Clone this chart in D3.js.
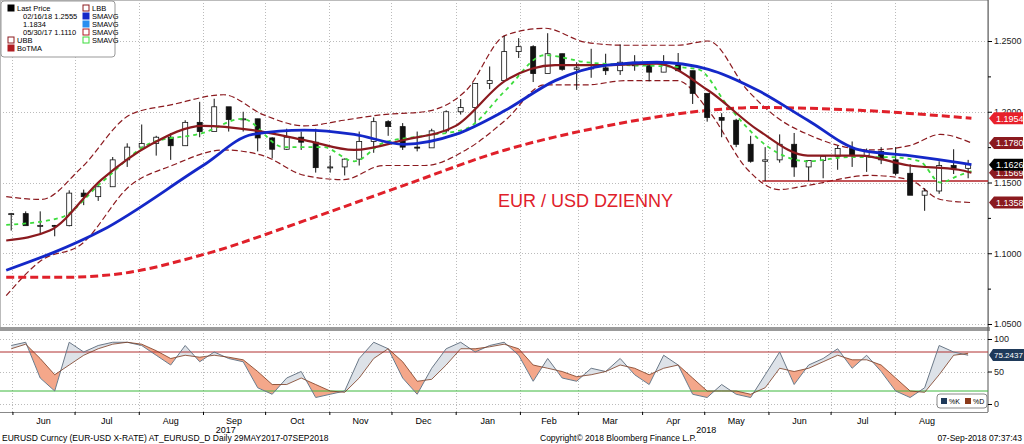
<!DOCTYPE html>
<html><head><meta charset="utf-8">
<script src="https://cdn.jsdelivr.net/npm/d3@7"></script>
<style>body{margin:0;background:#fff}svg{display:block;font-family:"Liberation Sans",sans-serif}</style>
</head><body><svg id="c" width="1024" height="444"></svg>
<script>
const weeks=["2017-05-29","2017-06-05","2017-06-12","2017-06-19","2017-06-26","2017-07-03","2017-07-10","2017-07-17","2017-07-24","2017-07-31","2017-08-07","2017-08-14","2017-08-21","2017-08-28","2017-09-04","2017-09-11","2017-09-18","2017-09-25","2017-10-02","2017-10-09","2017-10-16","2017-10-23","2017-10-30","2017-11-06","2017-11-13","2017-11-20","2017-11-27","2017-12-04","2017-12-11","2017-12-18","2017-12-25","2018-01-01","2018-01-08","2018-01-15","2018-01-22","2018-01-29","2018-02-05","2018-02-12","2018-02-19","2018-02-26","2018-03-05","2018-03-12","2018-03-19","2018-03-26","2018-04-02","2018-04-09","2018-04-16","2018-04-23","2018-04-30","2018-05-07","2018-05-14","2018-05-21","2018-05-28","2018-06-04","2018-06-11","2018-06-18","2018-06-25","2018-07-02","2018-07-09","2018-07-16","2018-07-23","2018-07-30","2018-08-06","2018-08-13","2018-08-20","2018-08-27","2018-09-03"];
const high=[1.1285,1.1296,1.1296,1.1200,1.1445,1.1450,1.1490,1.1680,1.1777,1.1910,1.1830,1.1850,1.1940,1.2070,1.2092,1.2030,1.2000,1.1950,1.1820,1.1880,1.1860,1.1880,1.1690,1.1670,1.1860,1.1960,1.1940,1.1920,1.1860,1.1880,1.2010,1.2090,1.2200,1.2320,1.2536,1.2520,1.2470,1.2555,1.2410,1.2350,1.2445,1.2410,1.2475,1.2400,1.2340,1.2400,1.2415,1.2290,1.2125,1.1990,1.1950,1.1830,1.1750,1.1840,1.1850,1.1650,1.1690,1.1760,1.1790,1.1740,1.1750,1.1750,1.1630,1.1460,1.1650,1.1735,1.1660];
const low=[1.1160,1.1200,1.1130,1.1120,1.1190,1.1340,1.1370,1.1470,1.1610,1.1730,1.1690,1.1660,1.1760,1.1820,1.1880,1.1860,1.1860,1.1720,1.1670,1.1730,1.1730,1.1570,1.1570,1.1550,1.1620,1.1710,1.1830,1.1730,1.1720,1.1790,1.1850,1.1980,1.1920,1.2160,1.2220,1.2380,1.2210,1.2350,1.2290,1.2155,1.2240,1.2260,1.2260,1.2290,1.2215,1.2280,1.2330,1.2055,1.1930,1.1820,1.1750,1.1640,1.1510,1.1640,1.1540,1.1510,1.1530,1.1590,1.1610,1.1575,1.1630,1.1550,1.1430,1.1300,1.1420,1.1560,1.1530];
const close=[1.1280,1.1195,1.1197,1.1195,1.1425,1.1400,1.1470,1.1660,1.1750,1.1775,1.1820,1.1760,1.1925,1.1860,1.2035,1.1945,1.1950,1.1815,1.1735,1.1820,1.1785,1.1605,1.1610,1.1665,1.1790,1.1930,1.1895,1.1750,1.1745,1.1865,1.2000,1.2030,1.2200,1.2220,1.2425,1.2460,1.2270,1.2410,1.2300,1.2310,1.2310,1.2290,1.2350,1.2325,1.2280,1.2330,1.2290,1.2130,1.1960,1.1940,1.1770,1.1650,1.1660,1.1770,1.1610,1.1655,1.1685,1.1740,1.1690,1.1720,1.1660,1.1565,1.1410,1.1440,1.1620,1.1600,1.1626];
const ma200Dates=["2017-05-29","2017-06-25","2017-07-20","2017-09-01","2017-10-20","2017-12-07","2018-01-25","2018-03-15","2018-05-03","2018-05-27","2018-07-15","2018-09-07"];
const ma200=[1.083,1.083,1.085,1.099,1.123,1.148,1.173,1.190,1.201,1.203,1.201,1.1954];
const ma100Dates=["2017-05-29","2017-07-14","2017-09-01","2017-09-25","2017-10-20","2017-11-13","2017-12-07","2018-01-01","2018-01-25","2018-02-18","2018-03-15","2018-04-08","2018-05-03","2018-05-27","2018-06-20","2018-07-15","2018-08-08","2018-09-01","2018-09-07"];
const ma100=[1.088,1.116,1.162,1.184,1.187,1.184,1.177,1.184,1.201,1.222,1.233,1.235,1.230,1.215,1.194,1.173,1.169,1.164,1.1626];
const ma50Dates=["2017-05-29","2017-06-19","2017-07-14","2017-08-07","2017-09-01","2017-09-25","2017-10-20","2017-11-13","2017-12-07","2018-01-01","2018-01-25","2018-02-18","2018-03-15","2018-04-08","2018-05-03","2018-05-27","2018-06-20","2018-07-15","2018-08-08","2018-09-01","2018-09-07"];
const ma50=[1.109,1.116,1.152,1.177,1.190,1.187,1.180,1.173,1.180,1.190,1.222,1.233,1.233,1.234,1.215,1.187,1.169,1.169,1.162,1.159,1.1569];
const ma20Dates=["2017-05-29","2017-06-24","2017-07-14","2017-08-07","2017-09-01","2017-09-20","2017-10-10","2017-10-29","2017-11-13","2017-11-27","2017-12-17","2018-01-06","2018-01-25","2018-02-13","2018-03-05","2018-03-24","2018-04-13","2018-04-28","2018-05-12","2018-06-01","2018-06-20","2018-07-10","2018-07-29","2018-08-13","2018-08-23","2018-09-01","2018-09-07"];
const ma20=[1.120,1.125,1.150,1.178,1.185,1.195,1.175,1.175,1.165,1.178,1.183,1.188,1.215,1.240,1.235,1.233,1.232,1.230,1.205,1.175,1.165,1.168,1.168,1.165,1.150,1.155,1.158];
const bbDates=["2017-05-29","2017-06-15","2017-07-04","2017-07-28","2017-08-17","2017-09-11","2017-09-30","2017-10-20","2017-11-08","2017-11-27","2017-12-17","2018-01-06","2018-01-25","2018-02-13","2018-03-05","2018-03-24","2018-04-18","2018-05-03","2018-05-22","2018-06-06","2018-06-20","2018-07-20","2018-08-08","2018-08-23","2018-09-07"];
const bbUpper=[1.140,1.138,1.160,1.198,1.205,1.212,1.198,1.190,1.194,1.198,1.200,1.215,1.254,1.259,1.249,1.247,1.247,1.250,1.215,1.195,1.184,1.173,1.176,1.184,1.178];
const bbLower=[1.070,1.095,1.106,1.148,1.162,1.173,1.169,1.155,1.152,1.162,1.162,1.173,1.194,1.219,1.219,1.222,1.222,1.201,1.159,1.145,1.148,1.155,1.152,1.138,1.1358];
const stochK=[90,95,40,20,95,80,90,95,95,90,75,60,90,65,80,70,65,25,15,40,50,10,15,20,70,95,85,40,15,55,85,95,80,90,95,75,35,70,40,35,55,50,70,45,30,75,60,15,10,30,15,10,45,80,30,60,70,85,55,75,50,20,10,25,90,80,75];
const stochD=[85,92,70,45,60,75,85,92,95,92,82,70,75,72,75,72,68,50,30,30,40,30,20,18,40,70,85,65,35,38,60,85,85,88,92,85,60,55,50,42,45,50,60,55,45,55,60,40,20,20,20,15,25,55,50,55,65,75,68,68,60,40,20,18,45,75,78];
const priceTicks=[1.05,1.10,1.15,1.20,1.25];
const stochTicks=[0,50,100];
const monthLabels=["Jun","Jul","Aug","Sep","Oct","Nov","Dec","Jan","Feb","Mar","Apr","May","Jun","Jul","Aug"];
const monthDates=["2017-06-01","2017-07-01","2017-08-01","2017-09-01","2017-10-01","2017-11-01","2017-12-01","2018-01-01","2018-02-01","2018-03-01","2018-04-01","2018-05-01","2018-06-01","2018-07-01","2018-08-01"];
const tags=[{v:1.1954,c:"#e8202a"},{v:1.1780,c:"#8b1a1f"},{v:1.1569,c:"#8b1a1f"},{v:1.1626,c:"#000"},{v:1.1358,c:"#8b1a1f"}];

const P=d3.timeParse("%Y-%m-%d");
const svg=d3.select("#c");
const X0=0,X1=988;
const x=d3.scaleTime().domain([P("2017-05-26"),P("2018-09-15")]).range([X0,X1]);
const y=d3.scaleLinear().domain([1.05,1.25]).range([324,41]);
const ys=d3.scaleLinear().domain([0,100]).range([404,339]);

svg.append("rect").attr("x",0.5).attr("y",0.5).attr("width",X1).attr("height",328).attr("fill","none").attr("stroke","#bbb");
const gg=svg.append("g").attr("stroke","#bbb").attr("stroke-dasharray","1,2");
monthDates.forEach(d=>{const xx=Math.round(x(P(d)))+0.5;gg.append("line").attr("x1",xx).attr("x2",xx).attr("y1",0).attr("y2",412);});
priceTicks.forEach(v=>gg.append("line").attr("x1",0).attr("x2",X1).attr("y1",Math.round(y(v))+.5).attr("y2",Math.round(y(v))+.5));
[0,50,100].forEach(v=>gg.append("line").attr("x1",0).attr("x2",X1).attr("y1",Math.round(ys(v))+.5).attr("y2",Math.round(ys(v))+.5));
svg.append("rect").attr("x",0).attr("y",327).attr("width",X1+2).attr("height",4).attr("fill","#9a9a9a");
svg.append("line").attr("x1",0).attr("x2",X1).attr("y1",412.5).attr("y2",412.5).attr("stroke","#888");

const ra=svg.append("g").attr("transform",`translate(${X1},0)`);
ra.append("line").attr("y1",0).attr("y2",412).attr("stroke","#555");
ra.call(d3.axisRight(y).tickValues(priceTicks).tickFormat(d3.format(".4f")).tickSize(4).tickPadding(2)).call(g=>g.select(".domain").remove());
ra.append("g").call(d3.axisRight(y).tickValues([1.075,1.125,1.175,1.225]).tickFormat("").tickSize(3)).call(g=>g.select(".domain").remove());
ra.append("g").call(d3.axisRight(ys).tickValues(stochTicks).tickSize(4).tickPadding(2)).call(g=>g.select(".domain").remove());
ra.selectAll("text").attr("font-size",9).attr("fill","#222").attr("font-family","Liberation Sans");
const ba=svg.append("g").attr("transform","translate(0,412)");
ba.call(d3.axisBottom(x).tickValues(monthDates.map(P)).tickFormat("").tickSize(3)).call(g=>g.select(".domain").remove());
monthDates.forEach((d,i)=>{const a=P(d),b=d3.timeMonth.offset(a,1);svg.append("text").attr("x",x(new Date((+a+ +b)/2))).attr("y",424).attr("text-anchor","middle").attr("font-size",9).text(monthLabels[i]);});
svg.append("text").attr("x",x(P("2017-09-12"))).attr("y",433).attr("text-anchor","middle").attr("font-size",9).text("2017");
svg.append("text").attr("x",x(P("2018-05-02"))).attr("y",433).attr("text-anchor","middle").attr("font-size",9).text("2018");

const ln=(ds,vs,col,w,dash)=>svg.append("path").datum(ds.map((d,i)=>[P(d),vs[i]])).attr("fill","none").attr("stroke",col).attr("stroke-width",w).attr("stroke-dasharray",dash||null)
 .attr("d",d3.line().x(d=>x(d[0])).y(d=>y(d[1])).curve(d3.curveMonotoneX));
ln(bbDates,bbUpper,"#8b1a1f",1.2,"6,3");
ln(bbDates,bbLower,"#8b1a1f",1.2,"6,3");
ln(ma200Dates,ma200,"#e0202a",3,"8,4");
svg.append("line").attr("x1",x(P("2018-05-29"))).attr("x2",X1).attr("y1",y(1.151)).attr("y2",y(1.151)).attr("stroke","#b01c22").attr("stroke-width",1.5);
const bars=svg.append("g");
weeks.forEach((d,i)=>{const xx=x(P(d))+5, o=i?close[i-1]:close[i];
 bars.append("line").attr("x1",xx).attr("x2",xx).attr("y1",y(high[i])).attr("y2",y(low[i])).attr("stroke","#111").attr("stroke-width",1);
 bars.append("rect").attr("x",xx-2.5).attr("width",5).attr("y",y(Math.max(o,close[i]))).attr("height",Math.max(1,Math.abs(y(o)-y(close[i])))).attr("fill",close[i]>=o?"#fff":"#111").attr("stroke","#111").attr("stroke-width",0.8);
});
ln(ma20Dates,ma20,"#3ddc3d",1.8,"4,4");
ln(ma50Dates,ma50,"#8b1a1f",2.2);
ln(ma100Dates,ma100,"#1428c8",2.8);

svg.append("text").attr("x",498).attr("y",207).attr("fill","#e0202a").attr("font-size",18).text("EUR / USD DZIENNY");

const tg=svg.append("g");
tags.forEach(t=>{const yy=y(t.v);
 tg.append("path").attr("d",`M${X1+1},${yy} L${X1+6},${yy-6} H1023 V${yy+6} H${X1+6} Z`).attr("fill",t.c);
 tg.append("text").attr("x",X1+8).attr("y",yy+3.3).attr("fill","#fff").attr("font-size",9).text(t.v.toFixed(4));
});

const sd=weeks.map((d,i)=>({d:P(d),k:stochK[i],dd:stochD[i]}));
const sx=d=>x(d.d)+5;
const defs=svg.append("defs");
defs.append("clipPath").attr("id","ab").append("path").datum(sd).attr("d",d3.area().x(sx).y0(330).y1(d=>ys(d.k)));
defs.append("clipPath").attr("id","be").append("path").datum(sd).attr("d",d3.area().x(sx).y0(412).y1(d=>ys(d.k)));
const ar=d3.area().x(sx).y0(d=>ys(d.dd)).y1(d=>ys(d.k));
svg.append("path").datum(sd).attr("clip-path","url(#ab)").attr("fill","#f4a78a").attr("d",ar);
svg.append("path").datum(sd).attr("clip-path","url(#be)").attr("fill","#dde2e8").attr("d",ar);
svg.append("line").attr("x1",0).attr("x2",X1).attr("y1",ys(80)).attr("y2",ys(80)).attr("stroke","#b03030");
svg.append("line").attr("x1",0).attr("x2",X1).attr("y1",ys(20)).attr("y2",ys(20)).attr("stroke","#3cb83c");
svg.append("path").datum(sd).attr("fill","none").attr("stroke","#6a7a8a").attr("stroke-width",1).attr("d",d3.line().x(sx).y(d=>ys(d.k)));
svg.append("path").datum(sd).attr("fill","none").attr("stroke","#7a3a20").attr("stroke-width",0.8).attr("d",d3.line().x(sx).y(d=>ys(d.dd)));
const kv=ys(75.2437);
svg.append("path").attr("d",`M${X1+1},${kv} L${X1+5},${kv-6} H1024 V${kv+6} H${X1+5} Z`).attr("fill","#1f3a5a");
svg.append("text").attr("x",X1+6).attr("y",kv+3).attr("fill","#fff").attr("font-size",8).text("75.2437");
const sl=svg.append("g").attr("transform","translate(937,394)");
sl.append("rect").attr("width",50).attr("height",14).attr("rx",3).attr("fill","#fff").attr("stroke","#888");
sl.append("rect").attr("x",4).attr("y",4).attr("width",6).attr("height",6).attr("fill","#1f3a5a");
sl.append("text").attr("x",12).attr("y",10).attr("font-size",7).text("%K");
sl.append("rect").attr("x",28).attr("y",4).attr("width",6).attr("height",6).attr("fill","#8b3a1a");
sl.append("text").attr("x",36).attr("y",10).attr("font-size",7).text("%D");

const lg=svg.append("g").attr("transform","translate(1,1)");
lg.append("rect").attr("width",114).attr("height",56).attr("rx",3).attr("fill","#fff").attr("stroke","#999");
const li=[["Last Price","#000",6,10],["02/16/18 1.2555",null,12,18],["1.1834",null,12,26],["05/30/17 1.1110",null,12,34],["UBB","#8b1a1f",6,42],["BoTMA","#b01c22",6,50]];
li.forEach(r=>{ if(r[1]) lg.append("rect").attr("x",r[2]+1).attr("y",r[3]-6).attr("width",6).attr("height",6).attr("fill",r[1]=="#8b1a1f"?"#fff":r[1]).attr("stroke",r[1]);
 lg.append("text").attr("x",r[2]+10).attr("y",r[3]).attr("font-size",7.5).text(r[0]);});
const ri=[["LBB","#8b1a1f",true],["SMAVG","#1428c8"],["SMAVG","#2a8ff0"],["SMAVG","#b01c22",true],["SMAVG","#3ddc3d",true]];
ri.forEach((r,i)=>{const yy=10+i*8;lg.append("rect").attr("x",82).attr("y",yy-6).attr("width",6).attr("height",6).attr("fill",r[2]?"#fff":r[1]).attr("stroke",r[1]);
 lg.append("text").attr("x",91).attr("y",yy).attr("font-size",7.5).text(r[0]);});

svg.append("text").attr("x",2).attr("y",441).attr("font-size",8.5).text("EURUSD Curncy (EUR-USD X-RATE) AT_EURUSD_D  Daily 29MAY2017-07SEP2018");
svg.append("text").attr("x",540).attr("y",441).attr("font-size",8.5).text("Copyright© 2018 Bloomberg Finance L.P.");
svg.append("text").attr("x",1022).attr("y",441).attr("text-anchor","end").attr("font-size",8.5).text("07-Sep-2018 07:37:43");
</script></body></html>
